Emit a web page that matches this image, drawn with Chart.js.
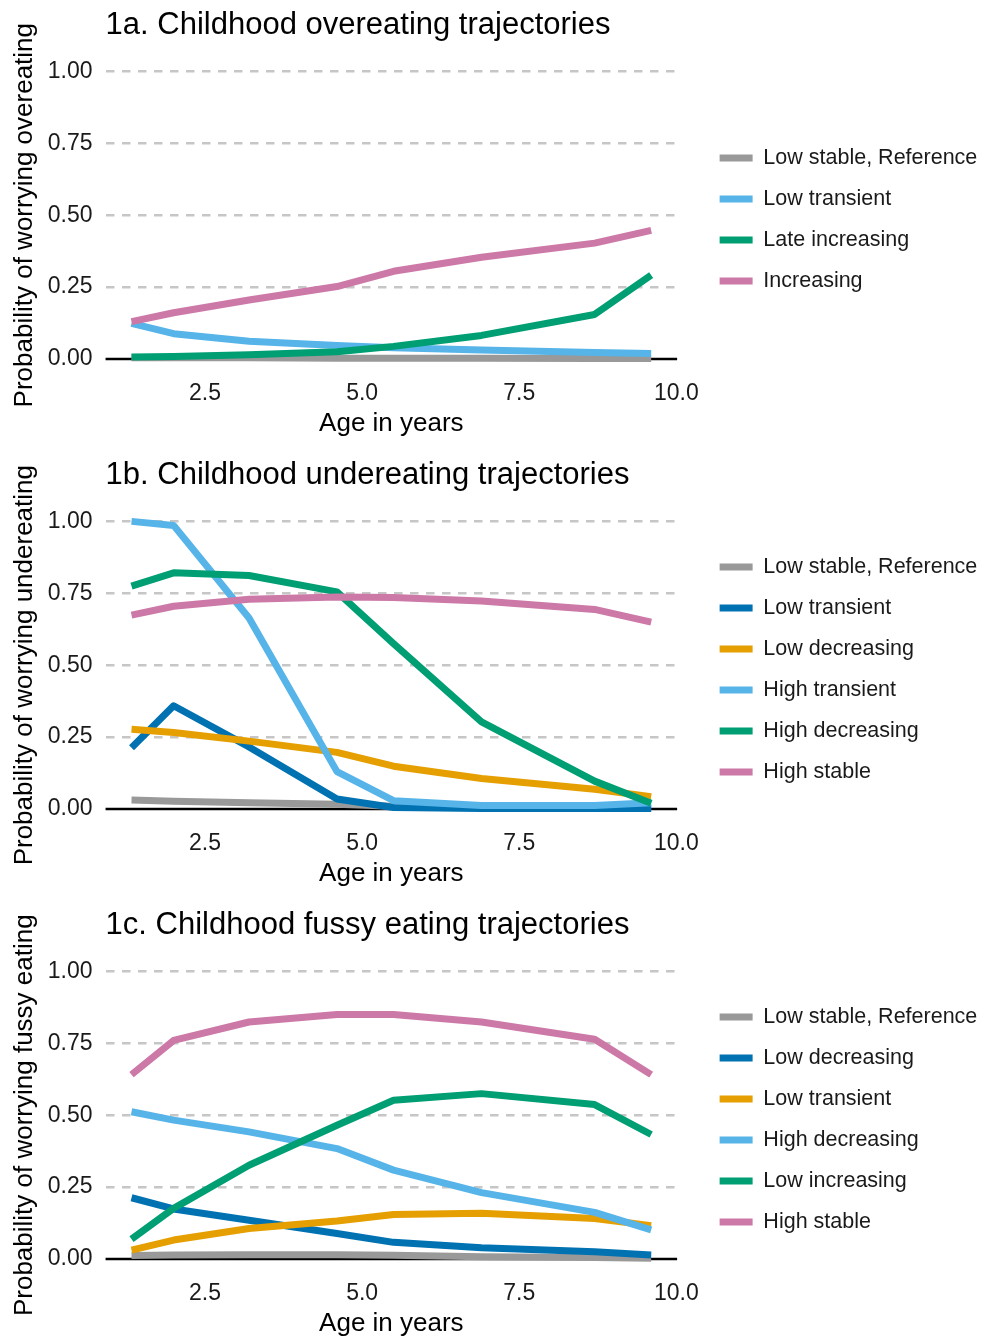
<!DOCTYPE html>
<html><head><meta charset="utf-8">
<script src="https://cdn.jsdelivr.net/npm/chart.js@4.4.0/dist/chart.umd.min.js"></script>
<style>
html,body{margin:0;padding:0;background:#fff;overflow:hidden;width:986px;height:1337px;}
.panel{position:absolute;left:0;width:986px;height:450px;}
canvas{display:block;}
</style></head><body>
<div class="panel" style="top:0px"><canvas id="c1" width="986" height="450"></canvas></div>
<div class="panel" style="top:450px"><canvas id="c2" width="986" height="450"></canvas></div>
<div class="panel" style="top:900px"><canvas id="c3" width="986" height="450"></canvas></div>
<script>
// ---- shared axes ----
const ages = [1.33, 2.0, 3.2, 4.6, 5.5, 6.9, 8.7, 9.6];
const xTickValues = [2.5, 5.0, 7.5, 10.0];
const yTickValues = [0, 0.25, 0.5, 0.75, 1.0];

// ---- colours ----
const cGray = '#999999', cLightBlue = '#56B4E9', cGreen = '#009E73',
      cPink = '#CC79A7', cDarkBlue = '#0072B2', cOrange = '#E69F00';

// ---- 1a overeating ----
const overTitle = '1a. Childhood overeating trajectories';
const overYTitle = 'Probability of worrying overeating';
const overLabels = ['Low stable, Reference', 'Low transient', 'Late increasing', 'Increasing'];
const overLowStable      = [0.004, 0.004, 0.004, 0.003, 0.003, 0.003, 0.002, 0.002];
const overLowTransient   = [0.124, 0.088, 0.062, 0.047, 0.039, 0.031, 0.023, 0.019];
const overLateIncreasing = [0.007, 0.009, 0.015, 0.025, 0.044, 0.082, 0.155, 0.292];
const overIncreasing     = [0.130, 0.161, 0.205, 0.252, 0.305, 0.354, 0.403, 0.447];

// ---- 1b undereating ----
const underTitle = '1b. Childhood undereating trajectories';
const underYTitle = 'Probability of worrying undereating';
const underLabels = ['Low stable, Reference', 'Low transient', 'Low decreasing', 'High transient', 'High decreasing', 'High stable'];
const underLowStable      = [0.031, 0.027, 0.022, 0.017, 0.010, 0.005, 0.003, 0.003];
const underLowTransient   = [0.213, 0.359, 0.216, 0.035, 0.005, 0.002, 0.002, 0.002];
const underLowDecreasing  = [0.277, 0.266, 0.236, 0.197, 0.149, 0.106, 0.069, 0.043];
const underHighTransient  = [1.000, 0.986, 0.664, 0.130, 0.029, 0.012, 0.012, 0.022];
const underHighDecreasing = [0.775, 0.821, 0.812, 0.755, 0.575, 0.303, 0.097, 0.020];
const underHighStable     = [0.674, 0.705, 0.729, 0.737, 0.735, 0.723, 0.694, 0.650];

// ---- 1c fussy eating ----
const fussyTitle = '1c. Childhood fussy eating trajectories';
const fussyYTitle = 'Probability of worrying fussy eating';
const fussyLabels = ['Low stable, Reference', 'Low decreasing', 'Low transient', 'High decreasing', 'Low increasing', 'High stable'];
const fussyLowStable      = [0.012, 0.014, 0.015, 0.015, 0.013, 0.008, 0.005, 0.003];
const fussyLowDecreasing  = [0.213, 0.174, 0.135, 0.089, 0.058, 0.039, 0.025, 0.014];
const fussyLowTransient   = [0.031, 0.066, 0.106, 0.132, 0.155, 0.159, 0.141, 0.116];
const fussyHighDecreasing = [0.512, 0.483, 0.442, 0.384, 0.309, 0.231, 0.162, 0.101];
const fussyLowIncreasing  = [0.069, 0.176, 0.326, 0.465, 0.552, 0.575, 0.537, 0.433];
const fussyHighStable     = [0.641, 0.760, 0.824, 0.850, 0.850, 0.824, 0.764, 0.641];

const FONT = "'Liberation Sans', Arial, Helvetica, sans-serif";
const XMIN = 0.917, XMAX = 10.013;

const zeroLine = {
  id: 'zeroLine',
  beforeDatasetsDraw(chart) {
    const y = chart.scales.y.getPixelForValue(0);
    const {left, right} = chart.chartArea;
    const ctx = chart.ctx;
    ctx.save();
    ctx.strokeStyle = '#000';
    ctx.lineWidth = 2.5;
    ctx.beginPath();
    ctx.moveTo(left, y);
    ctx.lineTo(right, y);
    ctx.stroke();
    ctx.restore();
  }
};

function makeChart(id, title, yTitle, labels, colors, series) {
  const n = series.length;
  const datasets = series.map((vals, i) => ({
    label: labels[i],
    data: vals.map((v, j) => ({x: ages[j], y: v})),
    borderColor: colors[i],
    backgroundColor: colors[i],
    borderWidth: 7,
    pointRadius: 0,
    pointHoverRadius: 0,
    tension: 0,
    borderCapStyle: 'butt',
    borderJoinStyle: 'round',
    order: n - i,
    clip: false
  }));
  return new Chart(document.getElementById(id), {
    type: 'line',
    data: {datasets},
    plugins: [zeroLine],
    options: {
      responsive: false,
      animation: false,
      devicePixelRatio: 1,
      layout: {padding: {top: 0, left: 0, right: -1.3, bottom: 11}},
      plugins: {
        title: {
          display: true, text: title, align: 'start', fullSize: false,
          color: '#000', font: {family: FONT, size: 31, weight: 'normal'},
          padding: {top: 7.2, bottom: 12.6}
        },
        legend: {
          position: 'right', align: 'center', maxWidth: 320,
          labels: {
            color: '#1a1a1a', font: {family: FONT, size: 21.5},
            boxWidth: 33, boxHeight: 7, padding: 19.5,
            sort: (a, b) => a.datasetIndex - b.datasetIndex,
            generateLabels(chart) {
              const items = Chart.defaults.plugins.legend.labels.generateLabels(chart);
              items.forEach(it => { it.lineWidth = 0; it.fillStyle = it.strokeStyle; });
              return items;
            }
          }
        },
        tooltip: {enabled: false}
      },
      scales: {
        x: {
          type: 'linear', min: XMIN, max: XMAX,
          afterBuildTicks: s => { s.ticks = xTickValues.map(v => ({value: v})); },
          ticks: {color: '#1a1a1a', font: {family: FONT, size: 23}, padding: 6.5,
                  maxRotation: 0, autoSkip: false, callback: v => Number(v).toFixed(1)},
          grid: {display: false, drawTicks: false},
          border: {display: false},
          title: {display: true, text: 'Age in years', color: '#000',
                  font: {family: FONT, size: 26}, padding: {top: -5.6, bottom: -0.6}}
        },
        y: {
          type: 'linear', min: -0.05, max: 1.05,
          afterBuildTicks: s => { s.ticks = yTickValues.map(v => ({value: v})); },
          ticks: {color: '#1a1a1a', font: {family: FONT, size: 23}, padding: 13,
                  callback: v => Number(v).toFixed(2)},
          grid: {
            color: c => (c.tick && c.tick.value === 0) ? 'rgba(0,0,0,0)' : '#c6c6c6',
            lineWidth: 2.5, drawTicks: false
          },
          border: {display: false, dash: [8.5, 7.5]},
          title: {display: true, text: yTitle, color: '#000',
                  font: {family: FONT, size: 26}, padding: {top: 9.4, bottom: -5.8}}
        },
        y2: {
          type: 'linear', position: 'right', display: true,
          ticks: {display: false},
          grid: {drawOnChartArea: false, drawTicks: true, tickLength: 23, tickColor: 'rgba(0,0,0,0)'},
          border: {display: false}
        }
      }
    }
  });
}

makeChart('c1', overTitle, overYTitle, overLabels,
  [cGray, cLightBlue, cGreen, cPink],
  [overLowStable, overLowTransient, overLateIncreasing, overIncreasing]);

makeChart('c2', underTitle, underYTitle, underLabels,
  [cGray, cDarkBlue, cOrange, cLightBlue, cGreen, cPink],
  [underLowStable, underLowTransient, underLowDecreasing, underHighTransient, underHighDecreasing, underHighStable]);

makeChart('c3', fussyTitle, fussyYTitle, fussyLabels,
  [cGray, cDarkBlue, cOrange, cLightBlue, cGreen, cPink],
  [fussyLowStable, fussyLowDecreasing, fussyLowTransient, fussyHighDecreasing, fussyLowIncreasing, fussyHighStable]);
</script>
</body></html>
